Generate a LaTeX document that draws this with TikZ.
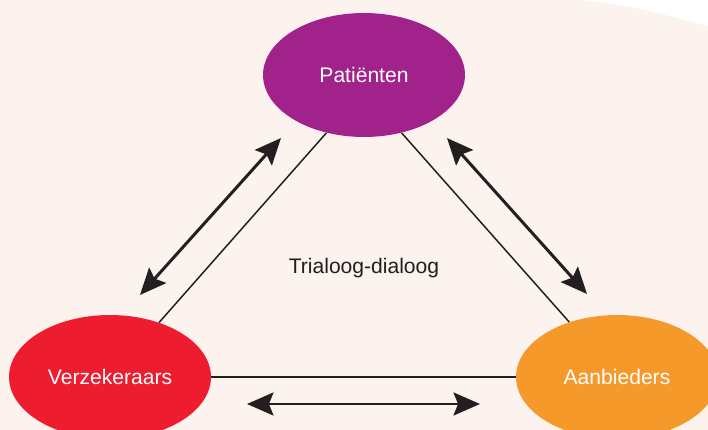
\documentclass[tikz,border=0pt]{standalone}
\usepackage{fontspec}
\setmainfont{Liberation Sans}
\usetikzlibrary{arrows.meta,shapes.geometric}
\definecolor{bg}{HTML}{FCF2EE}
\definecolor{ink}{HTML}{231F20}
\definecolor{c1}{HTML}{A2228B}
\definecolor{c2}{HTML}{ED1C2E}
\definecolor{c3}{HTML}{F6992B}

\begin{document}
\begin{tikzpicture}[x=0.02cm,y=0.02cm,
  party/.style={ellipse,minimum width=4.04cm,minimum height=2.48cm,inner sep=0pt,
    text=white,font=\fontsize{12}{14}\selectfont},
  link/.style={ink,line width=0.85pt},
  dbl/.style={ink,line width=1.7pt,{Stealth[length=15pt,width=13pt,inset=2.5pt]}-{Stealth[length=15pt,width=13pt,inset=2.5pt]}}]
\useasboundingbox (0,0) rectangle (708,430);
\clip (0,0) rectangle (708,430);
\fill[bg] (0,0) rectangle (708,430);
\fill[white] (583,430) .. controls (640,422) .. (708,404) -- (708,430) -- cycle;
\node[party,fill=c1] (pat) at (364,355) {Patiënten};
\node[party,fill=c2] (verz) at (110,53) {Verzekeraars};
\node[party,fill=c3] (aanb) at (617,53) {Aanbieders};
\node[text=ink,font=\fontsize{12}{14}\selectfont] (tri) at (364,162) {Trialoog-dialoog};
\draw[link] (pat.237) -- (verz.48);
\draw[link] (pat.303) -- (aanb.131);
\draw[link] (verz.east) -- (aanb.west);
\coordinate (pv1) at (281,292);\coordinate (pv2) at (140,135);
\coordinate (pa1) at (447,292);\coordinate (pa2) at (587,136);
\coordinate (va1) at (247,26);\coordinate (va2) at (480,26);
\draw[dbl] (pv1)--(pv2);
\draw[dbl] (pa1)--(pa2);
\draw[dbl] (va1)--(va2);
\end{tikzpicture}
\end{document}
